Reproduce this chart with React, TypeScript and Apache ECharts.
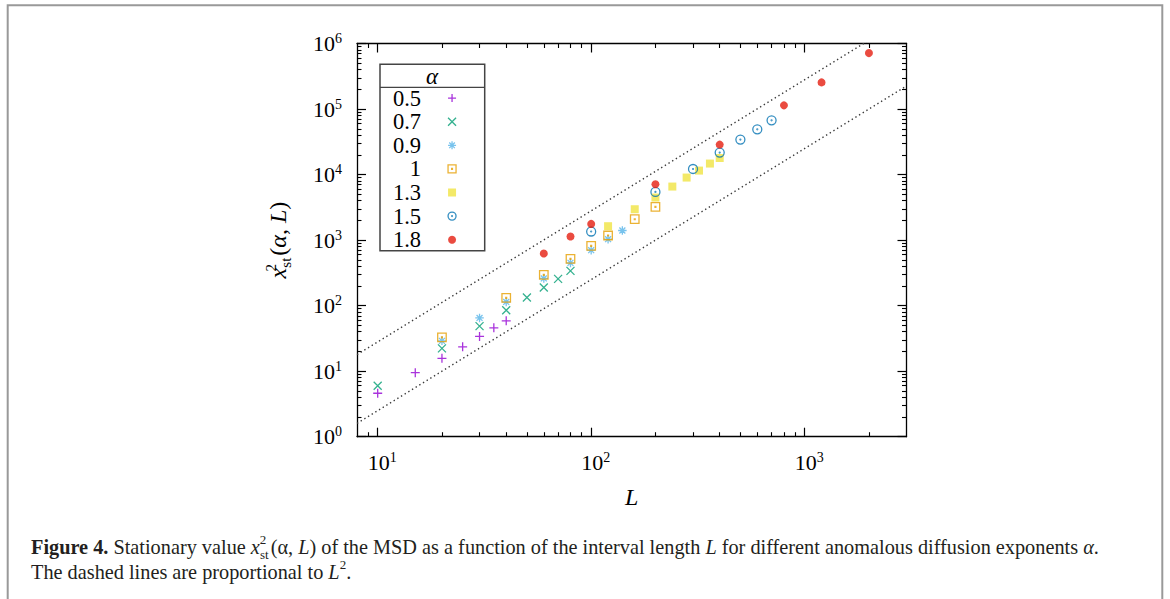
import React, { useEffect, useRef } from "react";
import * as echarts from "echarts";

// ---------- data ----------
const alphaNames = ["0.5", "0.7", "0.9", "1", "1.3", "1.5", "1.8"];

const L_a05 = [10, 15, 20, 25, 30, 35, 40];
const V_a05 = [4.6, 9.5, 15.7, 23.5, 33.9, 45.9, 58.7];
const L_a07 = [10, 20, 30, 40, 50, 60, 70, 80];
const V_a07 = [6.0, 22.3, 48.7, 85, 133, 189, 256, 339];
const L_a09 = [20, 30, 40, 60, 80, 100, 120, 140];
const V_a09 = [29, 65, 114, 260, 449, 702, 1033, 1400];
const L_a10 = [20, 40, 60, 80, 100, 120, 160, 200];
const V_a10 = [32.7, 131, 295, 517, 816, 1175, 2084, 3206];
const L_a13 = [120, 160, 200, 240, 280, 320, 360, 400];
const V_a13 = [1629, 2958, 4460, 6560, 9000, 11500, 14720, 17900];
const L_a15 = [100, 200, 300, 400, 500, 600, 700];
const V_a15 = [1352, 5430, 12170, 21650, 34150, 49100, 67300];
const L_a18 = [60, 80, 100, 200, 400, 800, 1200, 2000];
const V_a18 = [625, 1135, 1766, 7115, 28650, 113800, 255000, 714000];

// dashed reference lines (proportional to L^2), endpoints at the axis limits
const upperRefL = [8, 3000];
const upperRefV = [17.9, 2520000];
const lowerRefL = [8, 3000];
const lowerRefV = [1.6, 225000];

// axis ticks
const xMajor = [10, 100, 1000];
const xMinor = [9, 20, 30, 40, 50, 60, 70, 80, 90, 200, 300, 400, 500, 600, 700, 800, 900, 2000];
const yMajor = [1, 10, 100, 1000, 10000, 100000, 1000000];
const yMinor = [
  2, 3, 4, 5, 6, 7, 8, 9,
  20, 30, 40, 50, 60, 70, 80, 90,
  200, 300, 400, 500, 600, 700, 800, 900,
  2000, 3000, 4000, 5000, 6000, 7000, 8000, 9000,
  20000, 30000, 40000, 50000, 60000, 70000, 80000, 90000,
  200000, 300000, 400000, 500000, 600000, 700000, 800000, 900000,
];

// ---------- styles ----------
const F = "'Liberation Serif', 'DejaVu Serif', serif";
const colors = ["#9400d3", "#009e73", "#56b4e9", "#e69f00", "#f0e442", "#0072b2", "#e51e10"];
const SYM_PLUS = "path://M5,0L5,10M0,5L10,5";
const SYM_CROSS = "path://M0,0L10,10M10,0L0,10";
const SYM_STAR = "path://M5,0L5,10M0,5L10,5M1.5,1.5L8.5,8.5M8.5,1.5L1.5,8.5";
const SYM_BOXDOT = "path://M0,0L10,0L10,10L0,10Z M4.5,4.5L5.5,4.5L5.5,5.5L4.5,5.5Z";
const SYM_CIRCDOT =
  "path://M10,5A5,5,0,1,1,0,5A5,5,0,1,1,10,5Z M5.5,5A0.5,0.5,0,1,1,4.5,5A0.5,0.5,0,1,1,5.5,5Z";

const zip = (xs: number[], ys: number[]) => xs.map((x, i) => [x, ys[i]]);

const seriesDefs = [
  { L: L_a05, V: V_a05, symbol: SYM_PLUS, size: 9, stroke: true },
  { L: L_a07, V: V_a07, symbol: SYM_CROSS, size: 8, stroke: true },
  { L: L_a09, V: V_a09, symbol: SYM_STAR, size: 8.5, stroke: true },
  { L: L_a10, V: V_a10, symbol: SYM_BOXDOT, size: 8.5, stroke: true },
  { L: L_a13, V: V_a13, symbol: "rect", size: 8, stroke: false },
  { L: L_a15, V: V_a15, symbol: SYM_CIRCDOT, size: 9, stroke: true },
  { L: L_a18, V: V_a18, symbol: "circle", size: 8, stroke: false },
];

const itemStyleFor = (i: number, stroke: boolean) =>
  stroke
    ? { color: "rgba(0,0,0,0)", borderColor: colors[i], borderWidth: 1.3 }
    : { color: colors[i], borderWidth: 0 };

const tickRich = {
  b: { fontFamily: F, fontSize: 22, lineHeight: 24, color: "#000" },
  e: { fontFamily: F, fontSize: 14, lineHeight: 10, verticalAlign: "top", color: "#000" },
};
const expLabel = (v: number) => `{b|10}{e|${Math.round(Math.log10(v))}}`;

const majorX = (pos: string, labels: boolean) => ({
  type: "log",
  min: 8,
  max: 3000,
  position: pos,
  axisLine: { show: true, onZero: false, lineStyle: { color: "#000", width: 1.3 } },
  axisTick: { show: true, inside: true, length: 9, customValues: xMajor, lineStyle: { color: "#000", width: 1.2 } },
  axisLabel: labels
    ? { show: true, customValues: xMajor, margin: 14, padding: [0, 0, 0, 9], formatter: expLabel, rich: tickRich }
    : { show: false },
  splitLine: { show: false },
  minorTick: { show: false },
});
const minorX = (pos: string) => ({
  type: "log",
  min: 8,
  max: 3000,
  position: pos,
  axisLine: { show: false },
  axisTick: { show: true, inside: true, length: 4.5, customValues: xMinor, lineStyle: { color: "#000", width: 1.1 } },
  axisLabel: { show: false },
  splitLine: { show: false },
});
const majorY = (pos: string, labels: boolean) => ({
  type: "log",
  min: 1,
  max: 1000000,
  position: pos,
  axisLine: { show: true, onZero: false, lineStyle: { color: "#000", width: 1.3 } },
  axisTick: { show: true, inside: true, length: 9, customValues: yMajor, lineStyle: { color: "#000", width: 1.2 } },
  axisLabel: labels
    ? { show: true, customValues: yMajor, margin: 15, formatter: expLabel, rich: tickRich }
    : { show: false },
  splitLine: { show: false },
  minorTick: { show: false },
});
const minorY = (pos: string) => ({
  type: "log",
  min: 1,
  max: 1000000,
  position: pos,
  axisLine: { show: false },
  axisTick: { show: true, inside: true, length: 4.5, customValues: yMinor, lineStyle: { color: "#000", width: 1.1 } },
  axisLabel: { show: false },
  splitLine: { show: false },
});

const buildOption = () => {
  const xAxes: any[] = [majorX("bottom", true), minorX("bottom"), majorX("top", false), minorX("top")];
  xAxes[0].name = "L";
  xAxes[0].nameLocation = "middle";
  xAxes[0].nameGap = 48;
  xAxes[0].nameTextStyle = { fontFamily: F, fontSize: 24, fontStyle: "italic", color: "#000" };

  const yAxes: any[] = [majorY("left", true), minorY("left"), majorY("right", false), minorY("right")];
  yAxes[0].name = "{i|x}{sup|2}{sub|st}{n|(}{i|α}{n|, }{i|L}{n|)}";
  yAxes[0].nameLocation = "middle";
  yAxes[0].nameGap = 64;
  yAxes[0].nameRotate = 90;
  yAxes[0].nameTextStyle = {
    color: "#000",
    rich: {
      i: { fontFamily: F, fontSize: 24, fontStyle: "italic", lineHeight: 30, color: "#000" },
      n: { fontFamily: F, fontSize: 24, lineHeight: 30, color: "#000" },
      sup: { fontFamily: F, fontSize: 15, lineHeight: 15, verticalAlign: "top", width: 0.1, color: "#000" },
      sub: { fontFamily: F, fontSize: 15, lineHeight: 13, verticalAlign: "bottom", color: "#000", padding: [0, 2, 0, 0] },
    },
  };

  const scatter = seriesDefs.map((d, i) => ({
    type: "scatter",
    name: alphaNames[i],
    xAxisIndex: 0,
    yAxisIndex: 0,
    symbol: d.symbol,
    symbolSize: d.size,
    itemStyle: itemStyleFor(i, d.stroke),
    emphasis: { disabled: true },
    silent: true,
    z: 3,
    data: zip(d.L, d.V),
  }));

  const refLine = (Ls: number[], Vs: number[], name: string) => ({
    type: "line",
    name,
    xAxisIndex: 0,
    yAxisIndex: 0,
    data: zip(Ls, Vs),
    symbol: "none",
    silent: true,
    clip: true,
    z: 2,
    lineStyle: { color: "#3a3a3a", width: 1.3, type: [1.4, 2.9] },
  });

  const CF = 20.3;
  const capRich = {
    r: { fontFamily: F, fontSize: CF, lineHeight: 28, color: "#231f20" },
    b: { fontFamily: F, fontSize: CF, lineHeight: 28, fontWeight: "bold", color: "#231f20" },
    i: { fontFamily: F, fontSize: CF, lineHeight: 28, fontStyle: "italic", color: "#231f20" },
    sup: { fontFamily: F, fontSize: 13, lineHeight: 13, verticalAlign: "top", width: 0.1, color: "#231f20" },
    sup2: { fontFamily: F, fontSize: 13, lineHeight: 13, verticalAlign: "top", color: "#231f20" },
    sub: { fontFamily: F, fontSize: 13, lineHeight: 11, verticalAlign: "bottom", color: "#231f20", padding: [0, 2, 0, 0] },
  };

  return {
    animation: false,
    backgroundColor: "#fff",
    grid: { left: 357, top: 43.5, width: 549.5, height: 393.2, outerBoundsMode: "none", containLabel: false },
    xAxis: xAxes,
    yAxis: yAxes,
    legend: {
      data: alphaNames.map((n, i) => ({ name: n, itemStyle: itemStyleFor(i, seriesDefs[i].stroke) })),
      orient: "vertical",
      align: "right",
      right: 713.3,
      top: 86.6,
      padding: 0,
      itemWidth: 8,
      itemHeight: 8,
      itemGap: 0.6,
      selectedMode: false,
      textStyle: { fontFamily: F, fontSize: 22.5, lineHeight: 16, color: "#000", padding: [0, 22, 0, 0] },
    },
    series: [
      refLine(upperRefL, upperRefV, "upper"),
      refLine(lowerRefL, lowerRefV, "lower"),
      ...scatter,
    ],
    graphic: [
      {
        type: "rect",
        silent: true,
        shape: { x: 7.7, y: 5.3, width: 1154.6, height: 640 },
        style: { fill: "none", stroke: "#999", lineWidth: 2 },
      },
      {
        type: "rect",
        silent: true,
        z: 10,
        shape: { x: 380, y: 64.3, width: 104.7, height: 186.4 },
        style: { fill: "none", stroke: "#444", lineWidth: 1.5 },
      },
      {
        type: "line",
        silent: true,
        z: 10,
        shape: { x1: 380, y1: 87.3, x2: 484.7, y2: 87.3 },
        style: { stroke: "#444", lineWidth: 1.3 },
      },
      {
        type: "text",
        silent: true,
        z: 10,
        x: 432,
        y: 76,
        style: { text: "α", fontFamily: F, fontSize: 23, fontStyle: "italic", fill: "#000", align: "center", verticalAlign: "middle" },
      },
      {
        type: "text",
        silent: true,
        x: 31,
        y: 547,
        style: {
          text:
            "{b|Figure 4.}{r| Stationary value }{i|x}{sup|2}{sub|st}{r|(α, }{i|L}{r|) of the MSD as a function of the interval length }{i|L}{r| for different anomalous diffusion exponents }{i|α}{r|.}",
          fontFamily: F,
          fontSize: CF,
          fill: "#231f20",
          verticalAlign: "middle",
          rich: capRich,
        },
      },
      {
        type: "text",
        silent: true,
        x: 31,
        y: 572,
        style: {
          text: "{r|The dashed lines are proportional to }{i|L}{sup2|2}{r|.}",
          fontFamily: F,
          fontSize: CF,
          fill: "#231f20",
          verticalAlign: "middle",
          rich: capRich,
        },
      },
    ],
  };
};

export default function App() {
  const ref = useRef<HTMLDivElement>(null);
  useEffect(() => {
    if (!ref.current) return;
    const chart = echarts.init(ref.current, null, { renderer: "svg" });
    chart.setOption(buildOption() as any);
    return () => chart.dispose();
  }, []);
  return (
    <div
      ref={ref}
      style={{ position: "absolute", left: 0, top: 0, width: 1170, height: 599, background: "#fff" }}
    />
  );
}
